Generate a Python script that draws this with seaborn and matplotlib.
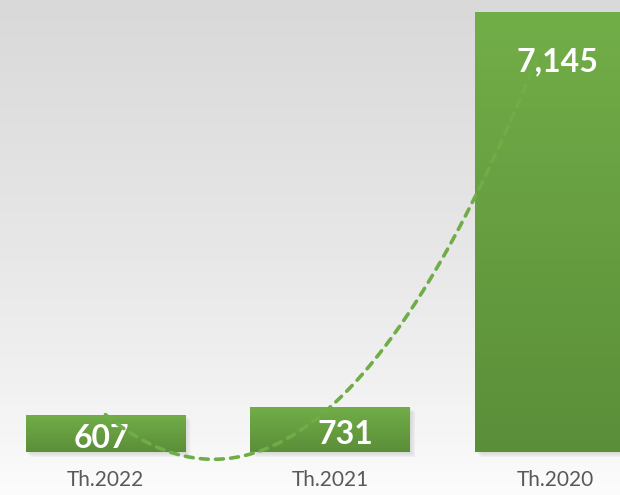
import numpy as np
import pandas as pd
import matplotlib
matplotlib.use("Agg")
import matplotlib.pyplot as plt
import matplotlib.transforms as mtransforms
from matplotlib.colors import LinearSegmentedColormap
import seaborn as sns

# 데이터
years = ["Th.2022", "Th.2021", "Th.2020"]
values = [607, 731, 7145]
value_labels = ["607", "731", "7,145"]

# 라벨 위치 미세조정 (points)
label_offsets = [(-3, -17), (11, -20), (1.5, -36)]

sns.set_theme(style="white")
plt.rcParams['font.family'] = ['Lato', 'DejaVu Sans']

df = pd.DataFrame({"year": years, "value": values})

fig = plt.figure(figsize=(6.2, 4.95), dpi=100)

# 배경 그라데이션 (위: 회색 -> 아래: 흰색)
bg = fig.add_axes([0, 0, 1, 1], zorder=-10)
grad = np.linspace(0, 1, 256).reshape(-1, 1)
bg_cmap = LinearSegmentedColormap.from_list(
    "bg", [(0, "#d9d9d9"), (0.5, "#e7e7e7"), (0.8, "#f2f2f2"), (1, "#fcfcfc")])
bg.imshow(grad, aspect="auto", cmap=bg_cmap, extent=[0, 1, 0, 1], origin="upper")
bg.axis("off")

ax = fig.add_axes([0, 43 / 495, 1, 452 / 495])
ax.set_facecolor("none")

sns.barplot(data=df, x="year", y="value", ax=ax, width=0.71,
            color="#6aa543", saturation=1, zorder=2)

# 막대 그라데이션 + 그림자
bar_cmap = LinearSegmentedColormap.from_list("bar", ["#72ae48", "#5b8e39"])
for p in ax.patches:
    x0, y0 = p.get_x(), p.get_y()
    w, h = p.get_width(), p.get_height()
    for k in range(1, 7):
        tr = mtransforms.offset_copy(ax.transData, fig=fig, x=k * 0.9, y=-k * 0.9, units="dots")
        ax.add_patch(plt.Rectangle((x0, y0), w, h, transform=tr, color="black",
                                   alpha=0.02, lw=0, zorder=1, clip_on=False))
    im = ax.imshow(grad, aspect="auto", cmap=bar_cmap, extent=[x0, x0 + w, y0, y0 + h],
                   origin="upper", zorder=2.5)
    im.set_clip_path(p)
    p.set_facecolor("none")
    p.set_edgecolor("none")

ax.set_xlim(-0.469, 2.289)
ax.set_ylim(0, 7145 * 452 / 440)

# 값 라벨
for i, (v, txt) in enumerate(zip(values, value_labels)):
    ax.annotate(txt, xy=(i, v), xytext=label_offsets[i], textcoords="offset points",
                ha="center", va="center", color="white", fontsize=23,
                fontweight="bold", zorder=3)

# 2차 다항식 추세선
xs = np.arange(len(values))
coef = np.polyfit(xs, values, 2)
x_fit = np.linspace(0, len(values) - 1, 300)
ax.plot(x_fit, np.polyval(coef, x_fit), color="#6fad47", lw=2.6,
        linestyle=(0, (2.2, 2.0)), dash_capstyle="round", zorder=4, clip_on=False)

sns.despine(ax=ax, left=True, bottom=True)
ax.set_xlabel("")
ax.set_ylabel("")
ax.set_yticks([])
ax.tick_params(axis="x", length=0, pad=13, labelsize=15, labelcolor="#595959")

fig.savefig("out.png", dpi=100)
